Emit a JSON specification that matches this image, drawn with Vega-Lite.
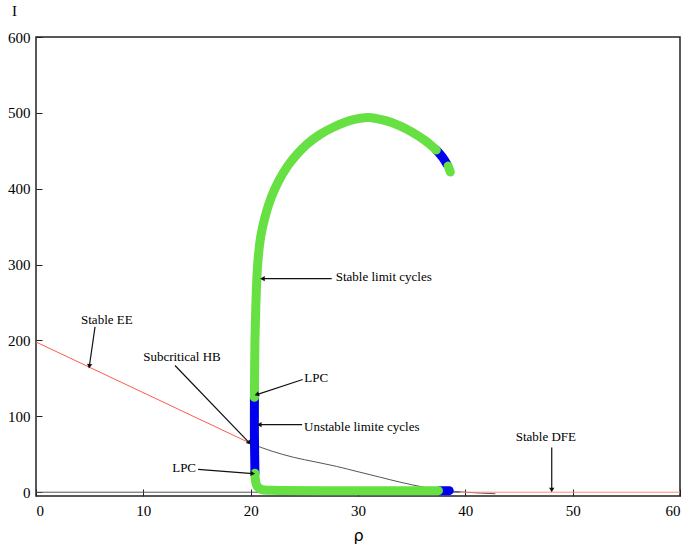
{
  "$schema": "https://vega.github.io/schema/vega-lite/v6.json",
  "width": 644,
  "height": 459,
  "autosize": "none",
  "padding": {"left": 36, "top": 37, "right": 5, "bottom": 51},
  "background": "white",
  "config": {
    "view": {"stroke": "#222", "strokeWidth": 1.5},
    "font": "Liberation Serif"
  },
  "datasets": {
    "thin": [
      {"part": "EE_stable", "ord": 1, "rho": 0, "I": 198},
      {"part": "EE_stable", "ord": 2, "rho": 20.2, "I": 63},
      {"part": "EE_unstable", "ord": 1, "rho": 20.2, "I": 63},
      {"part": "EE_unstable", "ord": 2, "rho": 22, "I": 54},
      {"part": "EE_unstable", "ord": 3, "rho": 24, "I": 46},
      {"part": "EE_unstable", "ord": 4, "rho": 26, "I": 40},
      {"part": "EE_unstable", "ord": 5, "rho": 28, "I": 34},
      {"part": "EE_unstable", "ord": 6, "rho": 30, "I": 27},
      {"part": "EE_unstable", "ord": 7, "rho": 32, "I": 20},
      {"part": "EE_unstable", "ord": 8, "rho": 34, "I": 13},
      {"part": "EE_unstable", "ord": 9, "rho": 36, "I": 7},
      {"part": "EE_unstable", "ord": 10, "rho": 38, "I": 2.5},
      {"part": "EE_unstable", "ord": 11, "rho": 40, "I": 0},
      {"part": "EE_unstable", "ord": 12, "rho": 42.8, "I": -2},
      {"part": "DFE_unstable", "ord": 1, "rho": 0, "I": 0},
      {"part": "DFE_unstable", "ord": 2, "rho": 39.5, "I": 0},
      {"part": "DFE_stable", "ord": 1, "rho": 39.5, "I": 0},
      {"part": "DFE_stable", "ord": 2, "rho": 60, "I": 0}
    ],
    "branch": [
      {"seg": "u1", "stab": "unstable", "ord": 1, "rho": 20.4, "I": 25},
      {"seg": "u1", "stab": "unstable", "ord": 2, "rho": 20.35, "I": 75},
      {"seg": "u1", "stab": "unstable", "ord": 3, "rho": 20.35, "I": 125},
      {"seg": "u2", "stab": "unstable", "ord": 1, "rho": 37.3, "I": 451},
      {"seg": "u2", "stab": "unstable", "ord": 2, "rho": 37.9, "I": 441},
      {"seg": "u2", "stab": "unstable", "ord": 3, "rho": 38.3, "I": 432},
      {"seg": "u3", "stab": "unstable", "ord": 1, "rho": 37.6, "I": 2},
      {"seg": "u3", "stab": "unstable", "ord": 2, "rho": 38.5, "I": 2},
      {"seg": "s1", "stab": "stable", "ord": 1, "rho": 37.5, "I": 2},
      {"seg": "s1", "stab": "stable", "ord": 2, "rho": 30, "I": 2},
      {"seg": "s1", "stab": "stable", "ord": 3, "rho": 22, "I": 2.5},
      {"seg": "s1", "stab": "stable", "ord": 4, "rho": 21, "I": 3.5},
      {"seg": "s1", "stab": "stable", "ord": 5, "rho": 20.6, "I": 8},
      {"seg": "s1", "stab": "stable", "ord": 6, "rho": 20.45, "I": 15},
      {"seg": "s1", "stab": "stable", "ord": 7, "rho": 20.4, "I": 25},
      {"seg": "s2", "stab": "stable", "ord": 1, "rho": 20.35, "I": 125},
      {"seg": "s2", "stab": "stable", "ord": 2, "rho": 20.4, "I": 200},
      {"seg": "s2", "stab": "stable", "ord": 3, "rho": 20.5, "I": 253},
      {"seg": "s2", "stab": "stable", "ord": 4, "rho": 20.65, "I": 300},
      {"seg": "s2", "stab": "stable", "ord": 5, "rho": 20.95, "I": 338},
      {"seg": "s2", "stab": "stable", "ord": 6, "rho": 21.4, "I": 366},
      {"seg": "s2", "stab": "stable", "ord": 7, "rho": 21.9, "I": 388},
      {"seg": "s2", "stab": "stable", "ord": 8, "rho": 22.6, "I": 410},
      {"seg": "s2", "stab": "stable", "ord": 9, "rho": 23.4, "I": 429},
      {"seg": "s2", "stab": "stable", "ord": 10, "rho": 24.3, "I": 445},
      {"seg": "s2", "stab": "stable", "ord": 11, "rho": 25.2, "I": 458},
      {"seg": "s2", "stab": "stable", "ord": 12, "rho": 26.4, "I": 471},
      {"seg": "s2", "stab": "stable", "ord": 13, "rho": 27.7, "I": 481},
      {"seg": "s2", "stab": "stable", "ord": 14, "rho": 29.3, "I": 490},
      {"seg": "s2", "stab": "stable", "ord": 15, "rho": 31.0, "I": 494},
      {"seg": "s2", "stab": "stable", "ord": 16, "rho": 32.5, "I": 490},
      {"seg": "s2", "stab": "stable", "ord": 17, "rho": 33.9, "I": 483},
      {"seg": "s2", "stab": "stable", "ord": 18, "rho": 35.0, "I": 475},
      {"seg": "s2", "stab": "stable", "ord": 19, "rho": 36.2, "I": 464},
      {"seg": "s2", "stab": "stable", "ord": 20, "rho": 37.3, "I": 451},
      {"seg": "s3", "stab": "stable", "ord": 1, "rho": 38.4, "I": 430},
      {"seg": "s3", "stab": "stable", "ord": 2, "rho": 38.6, "I": 422}
    ],
    "notes": [
      {"label": "Stable EE", "tx": 6.6, "ty": 227, "x1": 5.5, "y1": 218, "x2": 4.97, "y2": 166, "ang": 188},
      {"label": "Subcritical HB", "tx": 13.6, "ty": 178, "x1": 12.95, "y1": 167, "x2": 19.88, "y2": 65, "ang": 136},
      {"label": "LPC", "tx": 26.1, "ty": 151, "x1": 24.85, "y1": 148.5, "x2": 20.57, "y2": 128.7, "ang": 252},
      {"label": "Unstable limite cycles", "tx": 30.35, "ty": 86, "x1": 24.8, "y1": 89, "x2": 20.8, "y2": 89, "ang": 270},
      {"label": "Stable limit cycles", "tx": 32.4, "ty": 283.7, "x1": 27.55, "y1": 281.5, "x2": 21.1, "y2": 281.5, "ang": 270},
      {"label": "LPC", "tx": 13.8, "ty": 32, "x1": 15.1, "y1": 30, "x2": 20.2, "y2": 24.5, "ang": 94},
      {"label": "Stable DFE", "tx": 47.5, "ty": 72.5, "x1": 48.05, "y1": 59, "x2": 48.05, "y2": 3, "ang": 180}
    ]
  },
  "encoding": {
    "x": {
      "type": "quantitative",
      "scale": {"domain": [0, 60], "nice": false, "zero": false},
      "axis": {
        "title": "ρ", "titleFont": "DejaVu Sans", "titleFontSize": 16, "titleFontWeight": "normal",
        "titleColor": "black", "titleY": 39, "titleBaseline": "middle",
        "values": [0, 10, 20, 30, 40, 50, 60], "grid": false, "domain": false,
        "tickSize": -7, "tickColor": "#222", "labelPadding": 14,
        "labelFont": "Liberation Serif", "labelFontSize": 15, "labelColor": "black"
      }
    },
    "y": {
      "type": "quantitative",
      "scale": {"domain": [-5, 600], "nice": false, "zero": false},
      "axis": {
        "title": "I", "titleFont": "Liberation Serif", "titleFontSize": 15, "titleFontWeight": "normal",
        "titleColor": "black", "titleAngle": 0, "titleX": -22, "titleY": -27,
        "titleAlign": "center", "titleBaseline": "middle",
        "values": [0, 100, 200, 300, 400, 500, 600], "grid": false, "domain": false,
        "tickSize": -6, "tickColor": "#222", "labelPadding": 12,
        "labelFont": "Liberation Serif", "labelFontSize": 15, "labelColor": "black"
      }
    }
  },
  "layer": [
    {
      "data": {"name": "thin"},
      "mark": {"type": "line", "strokeWidth": 1, "interpolate": "monotone"},
      "encoding": {
        "x": {"field": "rho"},
        "y": {"field": "I"},
        "detail": {"field": "part"},
        "order": {"field": "ord", "type": "quantitative"},
        "color": {
          "field": "part", "type": "nominal", "legend": null,
          "scale": {"domain": ["EE_stable", "EE_unstable", "DFE_unstable", "DFE_stable"],
                    "range": ["#ff5a4a", "#555555", "#555555", "#ff8a80"]}
        }
      }
    },
    {
      "data": {"name": "branch"},
      "transform": [{"filter": "datum.stab === 'unstable'"}],
      "mark": {"type": "line", "strokeWidth": 9, "strokeCap": "round", "strokeJoin": "round", "color": "#0000ee", "interpolate": "catmull-rom"},
      "encoding": {
        "x": {"field": "rho"},
        "y": {"field": "I"},
        "detail": {"field": "seg"},
        "order": {"field": "ord", "type": "quantitative"}
      }
    },
    {
      "data": {"name": "branch"},
      "transform": [{"filter": "datum.stab === 'stable'"}],
      "mark": {"type": "line", "strokeWidth": 9, "strokeCap": "round", "strokeJoin": "round", "color": "#66e043", "interpolate": "catmull-rom"},
      "encoding": {
        "x": {"field": "rho"},
        "y": {"field": "I"},
        "detail": {"field": "seg"},
        "order": {"field": "ord", "type": "quantitative"}
      }
    },
    {
      "data": {"name": "notes"},
      "mark": {"type": "rule", "color": "#111", "strokeWidth": 1.2},
      "encoding": {
        "x": {"field": "x1"},
        "y": {"field": "y1"},
        "x2": {"field": "x2"},
        "y2": {"field": "y2"}
      }
    },
    {
      "data": {"name": "notes"},
      "mark": {"type": "point", "shape": "triangle-up", "filled": true, "color": "#111", "size": 28, "opacity": 1},
      "encoding": {
        "x": {"field": "x2"},
        "y": {"field": "y2"},
        "angle": {"field": "ang", "type": "quantitative", "scale": null}
      }
    },
    {
      "data": {"name": "notes"},
      "mark": {"type": "text", "font": "Liberation Serif", "fontSize": 13, "color": "black", "align": "center", "baseline": "middle"},
      "encoding": {
        "x": {"field": "tx"},
        "y": {"field": "ty"},
        "text": {"field": "label"}
      }
    }
  ]
}
